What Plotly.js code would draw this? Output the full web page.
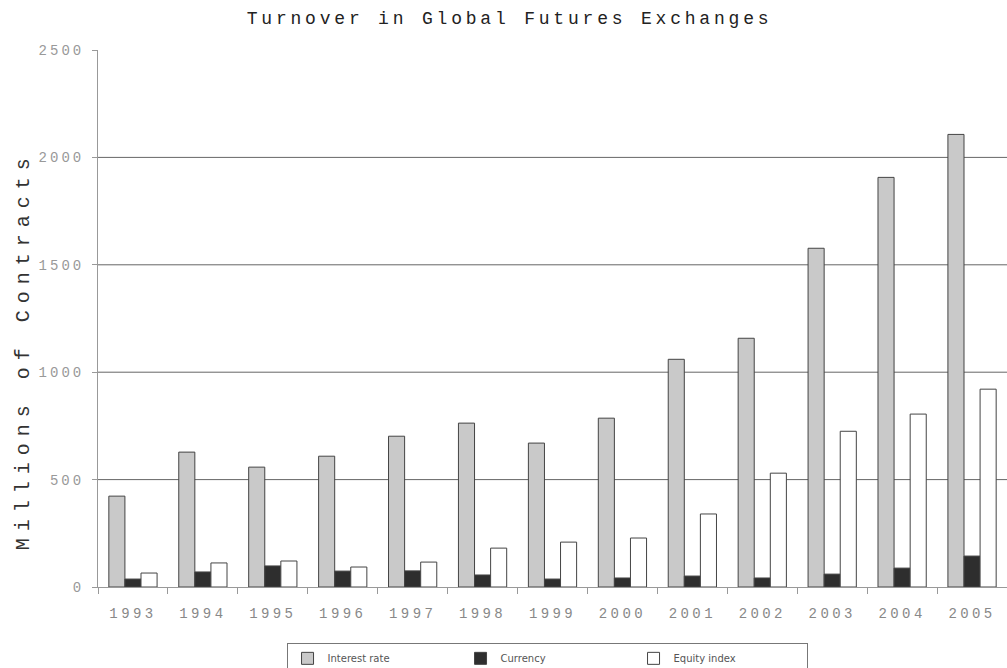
<!DOCTYPE html>
<html>
<head>
<meta charset="utf-8">
<script src="https://cdn.plot.ly/plotly-3.0.1.min.js"></script>
<style>
html,body{margin:0;padding:0;background:#fff;}
#chart{width:1007px;height:668px;}
.gtitle{letter-spacing:3.8px;}
.annotation-text{letter-spacing:7px;}
.xtick text{letter-spacing:3.4px;}
.ytick text{letter-spacing:3px;}
</style>
</head>
<body>
<div id="chart"></div>
<script>
const years = ["1993","1994","1995","1996","1997","1998","1999","2000","2001","2002","2003","2004","2005"];
const interestRate = [423, 628, 558, 609, 702, 763, 670, 786, 1060, 1158, 1577, 1907, 2107];
const currency = [37, 70, 98, 74, 75, 56, 37, 42, 51, 42, 60, 88, 144];
const equityIndex = [65, 112, 121, 93, 116, 181, 209, 228, 340, 530, 725, 805, 921];
const yTicks = [0, 500, 1000, 1500, 2000, 2500];
const gridValues = [500, 1000, 1500, 2000];

const mono = "Liberation Mono, Courier New, monospace";
const outline = {color: "#444", width: 1};

const traces = [
  {type: "bar", name: "Interest rate", x: years, y: interestRate,
   marker: {color: "#c9c9c9", line: outline}},
  {type: "bar", name: "Currency", x: years, y: currency,
   marker: {color: "#2e2e2e", line: outline}},
  {type: "bar", name: "Equity index", x: years, y: equityIndex,
   marker: {color: "#ffffff", line: outline}}
];

const layout = {
  width: 1007, height: 668,
  margin: {l: 98, r: 0, t: 50, b: 81, autoexpand: false},
  paper_bgcolor: "#fff", plot_bgcolor: "#fff",
  title: {text: "Turnover in Global Futures Exchanges", x: 0.506, xanchor: "center", y: 0.973, yanchor: "middle",
          font: {family: mono, size: 18, color: "#222"}},
  barmode: "group", bargap: 0.31, bargroupgap: 0,
  showlegend: true,
  legend: {orientation: "h", x: 0.494, xanchor: "center", y: -0.104, yanchor: "top",
           bordercolor: "#777", borderwidth: 1, bgcolor: "#fff",
           font: {family: "DejaVu Sans, sans-serif", size: 10, color: "#555"},
           entrywidth: 128, entrywidthmode: "pixels", itemwidth: 30, traceorder: "normal"},
  xaxis: {type: "category", showgrid: false, showline: true, linecolor: "#999", linewidth: 1,
          ticks: "outside", tickson: "boundaries", ticklen: 6, tickcolor: "#999",
          ticklabelstandoff: 13,
          tickfont: {family: mono, size: 14, color: "#888"}},
  yaxis: {range: [0, 2500], tickvals: yTicks, showgrid: false, zeroline: false,
          showline: true, linecolor: "#999", linewidth: 1,
          ticks: "outside", ticklen: 5, tickcolor: "#999",
          ticklabelstandoff: 5,
          tickfont: {family: mono, size: 14, color: "#999"}},
  annotations: [{text: "Millions of Contracts", textangle: -90, showarrow: false,
                 xref: "paper", x: -0.082, xanchor: "center", yref: "paper", y: 0.44, yanchor: "middle",
                 font: {family: mono, size: 20, color: "#333"}}],
  shapes: gridValues.map(v => ({type: "line", xref: "paper", x0: 0, x1: 1, yref: "y", y0: v, y1: v,
                                 line: {color: "#666", width: 1}, layer: "below"}))
};

Plotly.newPlot("chart", traces, layout, {displayModeBar: false, staticPlot: true});
</script>
</body>
</html>
